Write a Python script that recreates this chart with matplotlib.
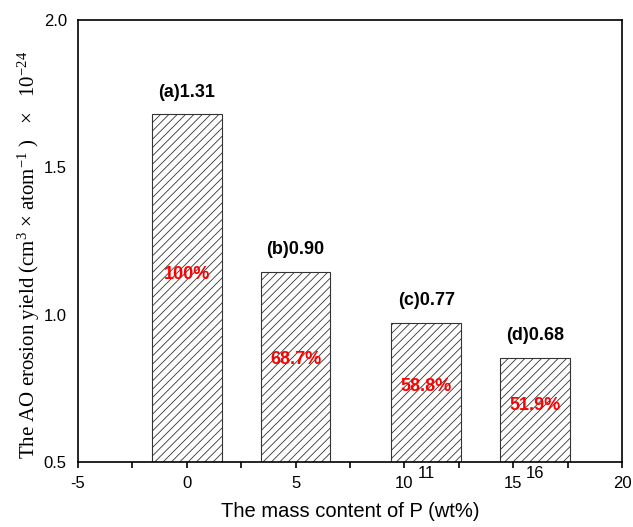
import matplotlib.pyplot as plt
from matplotlib.ticker import MultipleLocator

# bar data
p_content = [0, 5, 11, 16]
erosion_yield = [1.68, 1.145, 0.972, 0.853]
bar_labels = ['(a)1.31', '(b)0.90', '(c)0.77', '(d)0.68']
percent_labels = ['100%', '68.7%', '58.8%', '51.9%']
extra_ticks = [11, 16]

plt.rcParams['font.family'] = 'Liberation Sans'
plt.rcParams['axes.unicode_minus'] = False
plt.rcParams['hatch.linewidth'] = 0.6
plt.rcParams['hatch.color'] = '#333333'
plt.rcParams['mathtext.fontset'] = 'custom'
plt.rcParams['mathtext.rm'] = 'Liberation Serif'
plt.rcParams['mathtext.it'] = 'Liberation Serif:italic'

fig = plt.figure(figsize=(6.33, 5.27), dpi=100)
ax = fig.add_axes([0.1232, 0.1233, 0.8594, 0.8387])

ax.bar(p_content, erosion_yield, width=3.2, bottom=0, color='white',
       edgecolor='#333333', linewidth=0.8, hatch='////')

for x, h, lab, pct in zip(p_content, erosion_yield, bar_labels, percent_labels):
    ax.text(x, h + 0.075, lab, ha='center', va='center', fontsize=13,
            fontweight='bold', color='black')
    ax.text(x, 0.5 + (h - 0.5) * 0.54, pct, ha='center', va='center',
            fontsize=13, fontweight='bold', color='red')

# the odd "11" and "16" labels under the shifted bars
for x in extra_ticks:
    ax.text(x, -0.025, str(x), transform=ax.get_xaxis_transform(),
            ha='center', va='center', fontsize=12)

ax.set_xlim(-5, 20)
ax.set_ylim(0.5, 2.0)
ax.xaxis.set_major_locator(MultipleLocator(5))
ax.xaxis.set_minor_locator(MultipleLocator(2.5))
ax.yaxis.set_major_locator(MultipleLocator(0.5))
ax.yaxis.set_major_formatter(plt.FormatStrFormatter('%.1f'))

ax.tick_params(axis='x', which='both', direction='out', length=4, width=1.2,
               labelsize=12, pad=6)
ax.tick_params(axis='y', which='both', length=0, labelsize=12, pad=8)

for s in ax.spines.values():
    s.set_linewidth(1.2)

ax.set_xlabel('The mass content of P (wt%)', fontsize=14.5, labelpad=8)
ax.set_ylabel(r'The AO erosion yield (cm$^{\mathrm{3}}$ × atom$^{\mathrm{-1}}$ )   ×   10$^{\mathrm{-24}}$',
              fontsize=15, family='Liberation Serif', labelpad=1, y=0.468)

fig.savefig('out.png', dpi=100)
